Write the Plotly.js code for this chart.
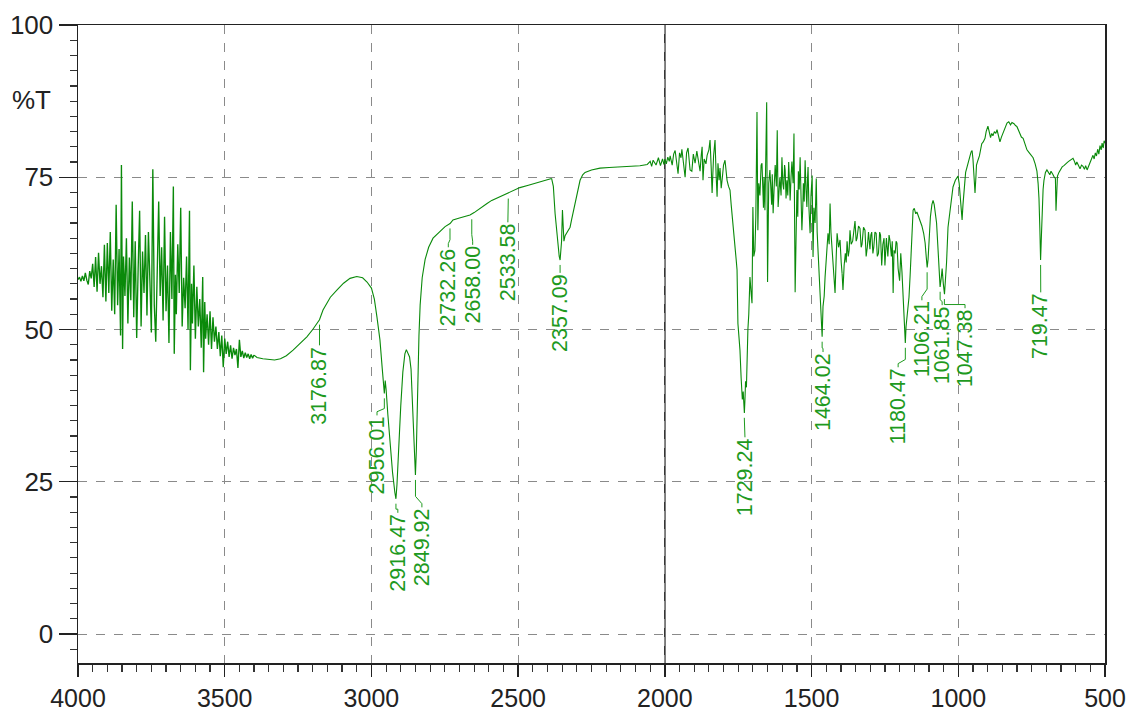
<!DOCTYPE html>
<html>
<head>
<meta charset="utf-8">
<script src="https://cdn.plot.ly/plotly-3.0.1.min.js"></script>
<style>html,body{margin:0;padding:0;background:#fff;}#chart{width:1133px;height:711px;}</style>
</head>
<body>
<div id="chart"></div>
<script>
// ---- Spectrum data: [wavenumber (cm-1), %T] ----
var seg4000_3400 = [
[4000,58.2],[3995,58.6],[3990,57.9],[3985,58.8],[3980,58.0],[3975,59.3],[3970,58.1],[3965,57.4],[3960,59.6],[3955,58.4],
[3950,60.8],[3945,57.0],[3940,61.9],[3935,56.2],[3930,62.6],[3925,57.5],[3920,60.4],[3915,55.3],[3910,63.9],[3905,54.6],
[3900,64.2],[3895,56.0],[3890,66.0],[3885,53.1],[3880,61.5],[3875,52.5],[3870,70.5],[3865,54.0],[3860,63.2],[3855,49.0],
[3852,77.0],[3848,46.8],[3845,62.0],[3840,55.5],[3835,65.0],[3830,51.0],[3825,61.8],[3820,54.8],[3815,71.0],[3810,52.0],
[3805,64.5],[3800,48.6],[3795,60.0],[3790,69.5],[3785,50.5],[3780,62.8],[3775,56.0],[3770,65.5],[3765,52.3],[3760,66.0],
[3755,58.0],[3750,49.5],[3745,76.3],[3740,54.0],[3735,48.0],[3730,62.5],[3725,71.0],[3720,55.5],[3715,63.5],[3710,51.5],
[3705,68.5],[3700,53.0],[3695,60.5],[3690,47.8],[3685,66.0],[3680,55.0],[3675,73.5],[3672,46.0],[3668,59.0],[3665,52.5],
[3660,64.0],[3655,56.0],[3650,70.0],[3645,50.5],[3640,58.5],[3635,53.5],[3630,62.0],[3625,50.0],[3620,69.5],[3617,43.3],
[3613,57.5],[3610,51.0],[3605,60.5],[3600,48.5],[3595,57.0],[3590,50.5],[3585,55.0],[3580,47.0],[3575,58.6],[3572,43.0],
[3568,54.5],[3565,48.5],[3560,52.5],[3555,47.5],[3550,53.0],[3545,46.8],[3540,52.0],[3535,48.0],[3530,50.5],[3525,46.8],
[3520,49.6],[3515,45.6],[3510,49.0],[3505,43.8],[3500,48.5],[3495,46.0],[3490,48.0],[3485,45.5],[3480,47.4],[3475,45.2],
[3470,47.0],[3465,45.8],[3460,46.8],[3455,43.7],[3450,48.3],[3445,45.5],[3440,46.5],[3435,45.3],[3430,46.2],[3425,45.4],
[3420,46.0],[3415,45.2],[3410,45.9],[3405,45.3],[3400,45.8]
];
var seg3400_2380 = [
[3400,45.8],[3390,45.4],[3370,45.2],[3350,45.1],[3330,45.0],[3310,45.2],[3290,45.7],[3267,46.6],[3245,47.6],[3220,48.8],[3200,50.0],
[3177,51.6],[3165,53.2],[3140,55.3],[3117,56.5],[3095,57.6],[3073,58.4],[3050,58.7],[3030,58.5],[3015,57.8],[3000,56.8],
[2990,55.0],[2981,52.0],[2971,48.3],[2963,43.5],[2958,40.8],[2956,39.5],[2953,41.6],[2950,40.2],[2944,36.0],[2936,30.5],
[2928,26.5],[2920,23.2],[2916.5,22.2],[2913,24.5],[2908,30.0],[2900,37.5],[2893,43.0],[2886,46.0],[2881,46.7],[2876,46.2],
[2870,45.5],[2865,43.5],[2860,38.0],[2855,31.0],[2850,26.1],[2847,30.0],[2843,40.0],[2838,49.0],[2834,54.0],[2827,58.5],
[2817,61.5],[2805,63.5],[2790,65.0],[2770,66.0],[2749,66.9],[2732,67.4],[2722,68.0],[2700,68.3],[2680,68.6],[2664,68.8],
[2650,69.2],[2637,69.6],[2620,70.2],[2606,70.7],[2590,71.2],[2572,71.6],[2555,72.0],[2538,72.4],[2515,72.9],[2494,73.3],
[2465,73.7],[2436,74.1],[2415,74.4],[2398,74.6],[2386,74.8]
];
var seg2380_2000 = [
[2386,74.8],[2380,73.5],[2374,69.0],[2368,65.5],[2364,63.5],[2360,62.0],[2357,61.4],[2354,62.8],[2352,64.5],[2349,69.6],[2346,65.0],
[2344,64.5],[2340,65.4],[2335,65.8],[2329,66.3],[2323,66.8],[2318,68.0],[2313,69.1],[2306,71.0],[2300,72.4],[2295,73.6],
[2289,74.5],[2280,75.4],[2272,75.8],[2250,76.2],[2221,76.5],[2190,76.6],[2153,76.7],[2120,76.8],[2085,76.9],[2060,77.1],
[2050,77.6],[2045,76.8],[2040,77.8],[2030,77.0],[2022,78.2],[2015,76.9],[2008,78.0],[2003,77.1]
];
var seg2000_1396 = [
[2003,77.1],[2000,78.0],[1995,77.2],[1990,78.3],[1985,77.6],[1982,78.5],[1975,77.0],[1970,78.8],[1965,79.4],[1960,77.5],[1955,75.6],
[1950,79.0],[1945,78.2],[1942,79.6],[1936,76.5],[1931,75.0],[1926,79.0],[1921,79.8],[1914,76.2],[1908,76.0],[1903,78.8],
[1897,77.3],[1891,79.3],[1885,77.0],[1880,76.0],[1876,78.6],[1873,80.0],[1870,74.5],[1866,78.0],[1860,77.2],[1856,78.6],
[1850,79.5],[1846,81.1],[1842,76.5],[1839,72.4],[1834,78.5],[1829,81.1],[1825,75.0],[1822,71.8],[1819,77.3],[1815,74.5],
[1812,76.5],[1808,73.2],[1805,74.5],[1800,77.0],[1795,77.8],[1791,75.0],[1788,74.5],[1783,73.5],[1778,72.9],[1774,70.5],
[1771,69.1],[1766,66.0],[1761,64.2],[1757,61.5],[1754,59.8],[1751,51.0],[1747,48.5],[1744,46.6],[1740,42.0],[1736,38.5],
[1733,39.8],[1731,37.0],[1729,36.3],[1727,38.5],[1725,41.5],[1722,40.5],[1720,47.8],[1717,50.0],[1714,52.5],[1710,58.6],
[1706,56.0],[1703,54.3],[1700,70.1],[1697,62.0],[1693,63.0],[1690,68.5],[1686,85.7],[1683,66.3],[1680,74.0],[1676,72.0],
[1672,77.0],[1669,77.3],[1664,70.0],[1662,75.0],[1659,69.6],[1656,76.0],[1653,87.3],[1650,57.8],[1646,74.0],[1642,76.2],
[1639,72.0],[1636,70.5],[1634,75.5],[1631,69.1],[1627,74.0],[1624,77.0],[1620,73.5],[1617,82.7],[1614,70.1],[1611,73.0],
[1608,75.0],[1604,72.0],[1601,78.3],[1598,74.0],[1595,73.0],[1592,77.0],[1590,76.2],[1587,71.5],[1584,74.5],[1581,72.0],
[1578,77.5],[1575,74.0],[1573,71.2],[1570,75.0],[1567,77.6],[1563,74.0],[1560,82.2],[1556,56.1],[1553,70.0],[1550,72.9],
[1547,68.5],[1545,76.0],[1542,73.0],[1539,78.3],[1536,72.0],[1533,66.3],[1530,70.0],[1528,74.0],[1525,71.0],[1522,77.8],
[1519,73.0],[1516,70.1],[1514,74.5],[1512,76.7],[1509,70.0],[1505,65.8],[1502,72.0],[1498,75.3],[1495,61.9],[1492,70.0],
[1488,67.5],[1484,74.8],[1481,66.0],[1478,63.0],[1474,60.0],[1471,55.3],[1467,51.5],[1464,48.8],[1461,53.8],[1457,55.5],
[1454,58.6],[1450,62.0],[1447,63.0],[1444,65.8],[1440,64.0],[1437,70.7],[1434,66.0],[1430,63.0],[1425,59.0],[1420,56.0],
[1416,62.0],[1413,65.8],[1408,63.5],[1403,64.7],[1399,61.0],[1396,59.2]
];
var seg1396_500 = [
[1396,59.2],[1393,56.5],[1389,60.5],[1385,62.5],[1382,61.0],[1379,64.5],[1375,62.0],[1372,63.0],[1369,66.3],[1365,64.0],[1360,64.5],
[1356,66.5],[1352,67.8],[1348,64.5],[1345,65.0],[1340,67.0],[1335,66.6],[1331,63.5],[1328,64.0],[1323,66.8],[1318,66.3],
[1314,62.0],[1310,63.5],[1306,66.0],[1301,63.2],[1298,65.5],[1295,66.0],[1291,62.5],[1288,63.5],[1284,66.0],[1280,65.8],
[1276,62.0],[1272,62.5],[1268,66.0],[1265,65.5],[1261,60.5],[1257,64.0],[1253,65.0],[1250,60.5],[1245,65.0],[1240,62.0],
[1236,65.5],[1233,64.7],[1228,62.0],[1225,64.5],[1222,56.0],[1219,63.0],[1215,62.5],[1212,64.5],[1209,64.2],[1205,60.0],
[1200,58.0],[1196,62.5],[1192,59.5],[1188,54.8],[1185,51.0],[1182,48.5],[1180.5,47.8],[1178,50.5],[1175,52.0],[1171,53.5],
[1168,55.3],[1164,59.0],[1160,63.0],[1157,67.0],[1154,69.6],[1150,69.9],[1145,69.0],[1141,69.3],[1137,68.8],[1130,68.0],
[1124,67.0],[1118,65.8],[1113,64.2],[1109,61.8],[1106,60.2],[1103,61.5],[1100,64.7],[1095,68.5],[1090,70.5],[1086,71.2],
[1082,70.5],[1078,69.0],[1074,67.5],[1070,64.0],[1066,61.0],[1062,57.0],[1058,58.5],[1055,60.0],[1051,57.5],[1047,55.8],
[1044,58.0],[1040,61.0],[1035,66.8],[1030,69.0],[1025,71.0],[1018,73.4],[1010,74.5],[1005,75.0],[1001,75.2],[997,74.0],
[994,72.5],[990,70.0],[987,68.0],[984,70.5],[980,73.5],[975,75.8],[970,76.7],[965,77.8],[960,78.5],[956,79.2],
[953,79.4],[950,78.0],[947,76.0],[943,72.4],[940,75.0],[938,77.0],[933,77.8],[928,78.5],[920,80.5],[915,80.8],
[909,81.4],[905,82.5],[899,83.4],[895,82.6],[890,81.5],[886,82.2],[882,81.8],[877,82.5],[872,82.2],[868,82.8],
[862,81.5],[858,80.8],[853,81.6],[846,82.5],[840,83.2],[834,83.9],[828,84.1],[822,83.6],[817,84.0],[810,83.8],
[805,83.5],[800,83.3],[793,82.5],[785,81.6],[779,81.4],[772,80.5],[766,79.5],[758,79.0],[750,78.5],[745,78.2],
[738,77.2],[732,76.0],[728,74.0],[725,71.5],[722,66.5],[719.5,61.4],[717,65.0],[714,70.0],[711,73.0],[708,74.5],
[703,75.8],[698,76.2],[693,75.7],[688,75.4],[684,76.0],[681,75.8],[677,75.4],[673,75.0],[669,74.8],[667,69.5],
[665,74.0],[662,75.2],[657,75.8],[652,76.2],[646,76.7],[640,76.9],[635,77.2],[629,77.4],[624,77.6],[619,77.8],
[614,77.9],[609,78.1],[604,77.6],[600,77.0],[596,77.5],[590,76.8],[585,76.4],[580,77.0],[575,76.8],[570,76.3],
[566,76.9],[561,76.2],[556,76.8],[550,77.6],[546,78.2],[541,78.6],[537,78.0],[533,79.0],[529,78.5],[525,79.6],
[521,78.8],[517,80.2],[513,79.5],[510,80.6],[506,79.8],[503,81.0],[500,80.6]
];

// ---- Peak labels ----
var peakLabels = ['3176.87','2956.01','2916.47','2849.92','2732.26','2658.00','2533.58','2357.09',
                  '1729.24','1464.02','1180.47','1106.21','1061.85','1047.38','719.47'];
var peakWn = [3176.87,2956.01,2916.47,2849.92,2732.26,2658.00,2533.58,2357.09,1729.24,1464.02,1180.47,1106.21,1061.85,1047.38,719.47];
var peakT  = [51.6,39.5,22.2,26.1,67.4,68.9,72.3,61.4,36.3,48.8,47.8,60.2,57.0,55.8,61.4];
// label placement (text centre wavenumber, %T at the top of the text)
var labelWn  = [3177,2981,2910,2828,2738,2655,2535,2357,1727,1461,1205,1124,1055,977,719];
var labelTop = [47.4,35.9,19.9,20.8,63.5,63.9,67.6,59.3,32.3,46.3,43.8,54.8,54.0,53.5,56.1];

var xTickStep = 500, xMinorStep = 50;
var yTickStep = 25, yMinorStep = 2.5;
var xRange = [4000, 500], yRange = [-4.76, 100];

(function(){
  var green = '#0a8a0a';
  var labelGreen = '#1e9a1e';
  var fontFamily = 'Liberation Sans, Arial, sans-serif';

  var segs = [seg4000_3400, seg3400_2380, seg2380_2000, seg2000_1396, seg1396_500];
  var traces = segs.map(function(s, idx){
    return {x: s.map(function(p){return p[0];}), y: s.map(function(p){return p[1];}),
            type: 'scatter', mode: 'lines', line: {color: green, width: idx === 0 ? 1.35 : 1.1}, hoverinfo: 'skip'};
  });

  // leader lines from each peak down to its label
  var lx = [], ly = [];
  for (var i = 0; i < peakWn.length; i++) {
    var startT = peakT[i] - 0.8;
    var bendT = labelTop[i] + Math.min(2.0, (startT - labelTop[i]) * 0.4);
    lx.push(peakWn[i], peakWn[i], labelWn[i], labelWn[i], null);
    ly.push(startT, bendT, labelTop[i] + 0.6, labelTop[i], null);
  }
  var leaderTrace = {x: lx, y: ly, type: 'scatter', mode: 'lines', line: {color: labelGreen, width: 1}, hoverinfo: 'skip'};

  var annotations = [];
  for (var j = 0; j < peakLabels.length; j++) {
    annotations.push({x: labelWn[j], y: labelTop[j], xref: 'x', yref: 'y', text: peakLabels[j], showarrow: false,
            textangle: -90, xanchor: 'center', yanchor: 'top', borderpad: 0,
            font: {family: fontFamily, size: 21.5, color: labelGreen}});
  }
  annotations.push({x: -0.045, y: 0.882, xref: 'paper', yref: 'paper', text: '%T', showarrow: false,
    xanchor: 'center', yanchor: 'middle', font: {family: fontFamily, size: 26, color: '#222'}});

  var layout = {
    width: 1133, height: 711,
    margin: {l: 78, r: 28, t: 25, b: 48},
    paper_bgcolor: '#fff', plot_bgcolor: '#fff',
    showlegend: false,
    font: {family: fontFamily, color: '#222'},
    xaxis: {
      range: xRange, autorange: false, tickmode: 'linear', tick0: 0, dtick: xTickStep,
      ticks: 'outside', ticklen: 12, tickwidth: 1.3, tickcolor: '#222',
      showline: true, linecolor: '#222', linewidth: 1.5, mirror: true,
      showgrid: true, gridcolor: '#8a8a8a', griddash: 'dash', gridwidth: 1,
      zeroline: false, tickfont: {family: fontFamily, size: 25, color: '#222'},
      minor: {dtick: xMinorStep, ticks: 'outside', ticklen: 7, tickwidth: 1.2, tickcolor: '#333', showgrid: false}
    },
    yaxis: {
      range: yRange, autorange: false, tickmode: 'linear', tick0: 0, dtick: yTickStep,
      ticks: 'outside', ticklen: 18, tickwidth: 1.3, tickcolor: '#222',
      showline: true, linecolor: '#222', linewidth: 1.5, mirror: true,
      showgrid: true, gridcolor: '#8a8a8a', griddash: 'dash', gridwidth: 1,
      zeroline: false, tickfont: {family: fontFamily, size: 26, color: '#222'},
      minor: {dtick: yMinorStep, ticks: 'outside', ticklen: 7, tickwidth: 1.2, tickcolor: '#333', showgrid: false}
    },
    shapes: [{type: 'line', xref: 'x', yref: 'paper', x0: 2000, x1: 2000, y0: 0, y1: 1, line: {color: '#111', width: 1.4}, layer: 'below'}],
    annotations: annotations
  };

  var gd = document.getElementById('chart');
  try {
    Plotly.newPlot(gd, traces.concat([leaderTrace]), layout, {staticPlot: true, displayModeBar: false});
  } catch (e) {
    try { Plotly.purge(gd); } catch (e2) {}
    gd.innerHTML = '';
    Plotly.newPlot(gd, traces, layout, {staticPlot: true, displayModeBar: false});
  }
})();
</script>
</body>
</html>
